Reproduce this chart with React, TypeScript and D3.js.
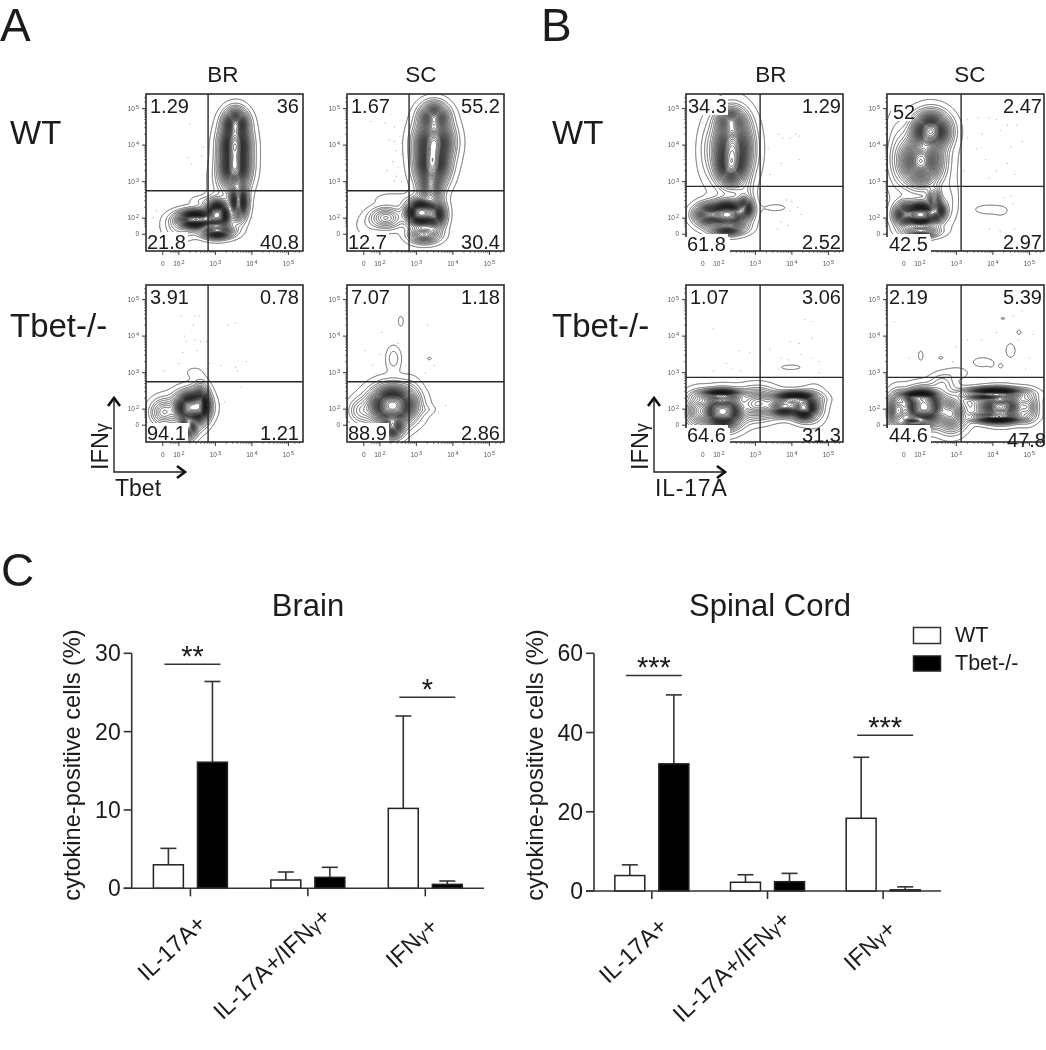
import React, { useMemo } from "react";
import * as d3 from "d3";

type Blob = [number, number, number, number, number]; // centre x, centre y, spread x, spread y (decades), peak height

// ---- Flow cytometry contour populations (decades of fluorescence)
const blobsAWtBr: Blob[] = [
  [3.54, 4.62, 0.17, 0.2, 0.55], [3.52, 4.05, 0.2, 0.28, 0.75], [3.52, 3.4, 0.2, 0.3, 0.75],
  [3.04, 2.11, 0.17, 0.18, 1.1], [2.45, 1.98, 0.26, 0.12, 0.85], [3.62, 2.45, 0.12, 0.25, 0.6],
  [3.04, 1.66, 0.22, 0.1, 0.55], [3.3, 3.0, 0.28, 0.35, 0.04], [2.0, 1.75, 0.25, 0.2, 0.06], [2.6, 2.5, 0.2, 0.08, 0.02],
];
const blobsAWtSc: Blob[] = [
  [3.47, 4.78, 0.2, 0.2, 0.6], [3.47, 4.12, 0.25, 0.3, 0.9], [3.42, 3.48, 0.22, 0.3, 0.9],
  [3.38, 2.84, 0.16, 0.25, 0.4], [3.12, 2.16, 0.2, 0.17, 1.4], [3.5, 2.1, 0.14, 0.2, 0.6],
  [2.15, 2.02, 0.24, 0.16, 0.22], [3.2, 1.56, 0.22, 0.12, 0.35], [1.65, 1.8, 0.22, 0.2, 0.02], [2.3, 2.55, 0.3, 0.1, 0.02],
];
const blobsATbetBr: Blob[] = [
  [2.31, 2.06, 0.22, 0.2, 1], [2.58, 2.15, 0.12, 0.25, 0.5], [2.25, 1.52, 0.12, 0.16, 0.4],
  [1.57, 1.93, 0.2, 0.2, 0.16], [2.4, 3.02, 0.16, 0.1, 0.012],
];
const blobsATbetSc: Blob[] = [
  [2.33, 2.11, 0.3, 0.25, 1], [2.33, 1.52, 0.15, 0.15, 0.4], [1.47, 1.97, 0.2, 0.2, 0.08],
  [2.36, 3.4, 0.12, 0.2, 0.035], [2.56, 4.42, 0.06, 0.12, 0.012], [3.34, 3.4, 0.05, 0.03, 0.012],
  [3.2, 2.0, 0.18, 0.08, 0.016], [2.85, 2.3, 0.16, 0.3, 0.03],
];
const blobsBWtBr: Blob[] = [
  [2.36, 3.94, 0.26, 0.45, 0.9], [2.31, 4.7, 0.2, 0.17, 0.35], [2.31, 3.39, 0.2, 0.25, 0.5],
  [2.22, 2.11, 0.24, 0.17, 1.3], [1.68, 2.11, 0.2, 0.15, 0.5], [2.68, 2.29, 0.12, 0.15, 0.5],
  [2.22, 1.75, 0.25, 0.1, 0.4], [1.68, 3.85, 0.18, 0.5, 0.03], [3.55, 2.3, 0.3, 0.1, 0.012], [2.7, 2.7, 0.15, 0.3, 0.05],
];
const blobsBWtSc: Blob[] = [
  [2.29, 4.4, 0.25, 0.25, 1], [2.01, 3.57, 0.3, 0.35, 0.8], [2.38, 2.48, 0.1, 0.2, 0.3],
  [2.01, 2.11, 0.2, 0.15, 1.3], [1.56, 2.11, 0.15, 0.17, 0.5], [2.47, 2.2, 0.12, 0.15, 0.5],
  [2.01, 1.66, 0.25, 0.09, 0.4], [1.37, 3.85, 0.2, 0.7, 0.04], [3.9, 2.25, 0.32, 0.1, 0.018],
  [4.2, 2.2, 0.1, 0.07, 0.014], [2.8, 2.5, 0.15, 0.4, 0.03],
];
const blobsBTbetBr: Blob[] = [
  [2.09, 1.95, 0.26, 0.22, 1.1], [2.04, 2.39, 0.3, 0.08, 0.5], [1.4, 1.97, 0.2, 0.25, 0.2],
  [4.05, 2.3, 0.3, 0.09, 0.55], [4.32, 2.05, 0.17, 0.15, 0.9], [3.78, 2.07, 0.22, 0.12, 0.55],
  [3.05, 2.16, 0.3, 0.22, 0.25], [3.96, 3.16, 0.25, 0.06, 0.012], [4.6, 2.1, 0.2, 0.3, 0.05],
];
const blobsBTbetSc: Blob[] = [
  [2.1, 2.07, 0.26, 0.22, 1], [1.92, 2.34, 0.25, 0.08, 0.45], [1.83, 1.61, 0.2, 0.08, 0.45],
  [1.37, 1.97, 0.15, 0.25, 0.3], [2.84, 1.88, 0.22, 0.25, 0.28], [4.02, 2.43, 0.4, 0.08, 0.6],
  [4.2, 2.08, 0.28, 0.18, 0.8], [4.11, 1.79, 0.35, 0.07, 0.45], [4.94, 2.07, 0.15, 0.2, 0.15],
  [2.01, 3.48, 0.05, 0.1, 0.014], [3.93, 3.25, 0.05, 0.05, 0.012], [4.2, 3.2, 0.05, 0.05, 0.012],
  [4.47, 3.62, 0.1, 0.15, 0.014], [4.7, 4.12, 0.05, 0.05, 0.012], [4.26, 4.5, 0.05, 0.02, 0.012],
  [2.56, 3.42, 0.05, 0.03, 0.012], [3.0, 3.0, 0.2, 0.1, 0.018], [3.7, 3.3, 0.2, 0.1, 0.014], [2.6, 2.7, 0.2, 0.18, 0.05],
];

// ---- Isolated events outside the contours
const dotsAWtBr = [[2.3, 4.58], [2.67, 3.94], [2.35, 3.48], [2.25, 3.66], [3.77, 5.03], [1.39, 2.2], [1.3, 2.02], [1.46, 1.75], [3.98, 2.5], [3.55, 1.4], [2.62, 3.7], [4.0, 2.0]];
const dotsAWtSc = [[1.75, 4.65], [2.15, 4.6], [2.4, 4.5], [2.55, 4.25], [2.4, 4.1], [2.6, 4.05], [2.25, 4.15], [2.45, 3.85], [2.6, 3.75], [2.35, 3.55], [2.5, 3.4], [2.2, 3.3], [2.45, 3.15], [2.6, 3.0], [2.4, 3.02], [1.5, 2.2], [1.4, 1.9], [1.6, 1.6], [4.1, 3.9], [2.3, 4.85]];
const dotsATbetBr = [[2.05, 4.55], [2.45, 4.55], [2.55, 4.55], [2.4, 4.3], [2.15, 4.0], [2.2, 3.85], [2.45, 3.9], [2.6, 3.85], [2.75, 3.85], [3.55, 4.35], [3.35, 4.3], [2.1, 3.55], [2.5, 3.6], [1.6, 3.05], [2.0, 3.25], [2.85, 3.25], [3.15, 3.2], [3.55, 3.15], [3.85, 3.3], [3.7, 2.6], [3.25, 2.2], [3.1, 1.9], [3.6, 3.05]];
const dotsATbetSc = [[2.05, 4.1], [1.6, 3.6], [2.0, 3.5], [2.5, 3.8], [2.7, 3.2], [1.8, 3.2], [3.3, 4.3], [3.5, 3.2], [3.25, 3.0], [3.8, 2.1], [3.6, 1.9]];
const dotsBWtBr = [[3.35, 3.9], [3.65, 4.3], [3.75, 4.2], [3.95, 4.2], [4.1, 4.3], [4.2, 4.25], [4.2, 3.6], [3.15, 3.7], [3.4, 3.2], [3.7, 3.5], [3.85, 2.5], [4.0, 2.45], [4.15, 2.3], [4.25, 2.1], [3.95, 2.2], [3.7, 1.9], [3.6, 1.7], [3.9, 1.8], [1.55, 4.6], [1.7, 3.1]];
const dotsBWtSc = [[3.3, 4.7], [3.6, 4.75], [3.9, 4.75], [4.1, 4.7], [3.3, 4.2], [3.7, 4.3], [4.2, 4.4], [4.4, 4.55], [4.65, 4.55], [4.8, 4.1], [4.5, 3.95], [3.55, 3.9], [3.8, 3.6], [4.1, 3.3], [4.4, 3.5], [4.6, 3.2], [3.2, 3.3], [3.9, 3.1], [4.3, 2.55], [4.5, 2.6], [4.55, 2.4], [3.9, 1.7], [4.2, 1.65], [4.6, 1.7]];
const dotsBTbetBr = [[1.85, 4.2], [2.55, 3.6], [2.85, 3.55], [2.2, 3.25], [1.85, 3.05], [2.6, 3.05], [2.35, 3.1], [3.4, 3.65], [3.7, 3.4], [3.9, 3.35], [4.25, 3.5], [4.55, 3.4], [4.75, 3.3], [4.35, 4.45], [4.55, 4.4], [4.55, 3.95], [3.95, 3.85], [4.2, 3.8], [3.65, 3.1], [4.75, 3.0], [3.15, 3.3]];
const dotsBTbetSc = [[1.3, 4.4], [4.8, 4.7], [4.55, 4.55], [4.1, 4.1], [3.3, 3.9], [3.7, 3.9], [4.7, 3.9], [5.1, 4.05], [1.7, 3.4], [3.0, 3.7], [2.9, 3.3], [4.9, 3.1], [5.0, 3.4]];

// ---- Quadrant percentages: upper left, upper right, lower left, lower right
const quadAWtBr = ["1.29", "36", "21.8", "40.8"];
const quadAWtSc = ["1.67", "55.2", "12.7", "30.4"];
const quadATbetBr = ["3.91", "0.78", "94.1", "1.21"];
const quadATbetSc = ["7.07", "1.18", "88.9", "2.86"];
const quadBWtBr = ["34.3", "1.29", "61.8", "2.52"];
const quadBWtSc = ["52", "2.47", "42.5", "2.97"];
const quadBTbetBr = ["1.07", "3.06", "64.6", "31.3"];
const quadBTbetSc = ["2.19", "5.39", "44.6", "47.8"];

// Quadrant gates, decades
const gatesA = { x: 2.8, y: 2.75 };
const gatesB = { x: 3.13, y: 2.87 };

const decades = [2, 3, 4, 5];
const zeroDecade = 1.56;
const scaleDomain = [1.1, 5.4];

// ---- Bar charts
const categories = ["IL-17A+", "IL-17A+/IFNγ+", "IFNγ+"];
const groups = ["WT", "Tbet-/-"];
const brainWtMean = [3.0, 1.06, 10.2];
const brainWtTop = [5.1, 2.08, 22.0];
const brainKoMean = [16.1, 1.4, 0.5];
const brainKoTop = [26.4, 2.68, 0.93];
const cordWtMean = [3.9, 2.2, 18.35];
const cordWtTop = [6.6, 4.1, 33.75];
const cordKoMean = [32.1, 2.35, 0.3];
const cordKoTop = [49.5, 4.45, 1.05];
const brainTicks = [0, 10, 20, 30];
const cordTicks = [0, 20, 40, 60];
const brainSig = [{ cat: 0, stars: "**", level: 28.6 }, { cat: 2, stars: "*", level: 24.4 }];
const cordSig = [{ cat: 0, stars: "***", level: 54.4 }, { cat: 2, stars: "***", level: 39.3 }];

// ---- Layout and style
const FONT = "'Liberation Sans', Arial, sans-serif";
const INK = "#1a1a1a";
const FRAME = 157;
const LEVELS = [0.006, 0.02, 0.035, 0.05, 0.07, 0.09, 0.11, 0.13, 0.15, 0.17, 0.19, 0.21, 0.23, 0.25, 0.27, 0.29, 0.31, 0.33, 0.35, 0.37, 0.39, 0.41, 0.43, 0.45, 0.47, 0.49, 0.51, 0.53, 0.55, 0.58, 0.61, 0.64, 0.67, 0.7, 0.74, 0.78, 0.83, 0.88, 0.93];
const LABEL_SHIFT = [0, 10, -4];
const SHADOW_SPREAD = 1.45;
const SHADOW_SHARE = 0.1;

const px = d3.scaleLinear().domain(scaleDomain).range([0, FRAME]);
const py = d3.scaleLinear().domain(scaleDomain).range([FRAME, 0]);

function useContours(blobs: Blob[]) {
  return useMemo(() => {
    const n = FRAME + 1;
    const v = new Float64Array(n * n);
    let mx = 0;
    for (let j = 0; j < n; j++) {
      const y = py.invert(j);
      for (let i = 0; i < n; i++) {
        const x = px.invert(i);
        let s = 0;
        for (const [cx, cy, sx, sy, w] of blobs) {
          const a = (x - cx) / sx, b = (y - cy) / sy;
          const r2 = a * a + b * b;
          s += w * Math.exp(-0.5 * r2);
          if (w > 0.1) s += w * SHADOW_SHARE * Math.exp(-0.5 * r2 / (SHADOW_SPREAD * SHADOW_SPREAD));
        }
        v[j * n + i] = s;
        if (s > mx) mx = s;
      }
    }
    for (let k = 0; k < v.length; k++) v[k] /= mx;
    const gen = d3.contours().size([n, n]).thresholds(LEVELS);
    const path = d3.geoPath();
    return gen(Array.from(v)).map((c) => path(c) || "");
  }, [blobs]);
}

function Power({ x, y, exp, anchor }: any) {
  return (
    <text x={x} y={y} textAnchor={anchor} fontSize={6.5} fill="#555" fontFamily={FONT}>
      10<tspan dy={-2} fontSize={5.5} dx={1}>{exp}</tspan>
    </text>
  );
}

function FlowPlot({ x, y, blobs, dots, quad, gate, panelId, cutBottom, nudge }: any) {
  const paths = useContours(blobs);
  const labelH = 17;
  const tl = { x: 4 + (nudge?.tlx || 0), y: 19 + (nudge?.tly || 0) };
  const tr = { x: FRAME - 4 + (nudge?.trx || 0), y: 19 };
  const bl = { x: 1 + (nudge?.blx || 0), y: 155 + (nudge?.bly || 0) };
  const br = { x: FRAME - 4 + (nudge?.brx || 0), y: 155 + (nudge?.bry || 0) };
  const tw = (s: string) => s.length * 11 - 2;
  const ticksMinor: number[] = [];
  for (const d of [2, 3, 4]) for (let m = 2; m < 10; m++) ticksMinor.push(d + Math.log10(m));
  for (const m of [6, 7, 8, 9]) ticksMinor.push(1 + Math.log10(m));
  ticksMinor.push(5.18, 5.3);
  return (
    <g transform={`translate(${x},${y})`}>
      <clipPath id={panelId}><rect width={FRAME} height={FRAME} /></clipPath>
      <g clipPath={`url(#${panelId})`}>
        {dots.map((d: number[], i: number) => (
          <circle key={i} cx={px(d[0])} cy={py(d[1])} r={0.6} fill="#aaa" />
        ))}
        {paths.map((d: string, i: number) => (
          <path key={i} d={d} fill="none" stroke="#111" strokeWidth={0.6} />
        ))}
        <rect x={tl.x - 2} y={tl.y - labelH} width={tw(quad[0])} height={labelH + 2} fill="#fff" />
        <rect x={bl.x - 1} y={bl.y - labelH} width={tw(quad[2])} height={labelH + 4} fill="#fff" />
      </g>
      <rect width={FRAME} height={FRAME} fill="none" stroke="#2a2a2a" strokeWidth={1.6} />
      <line x1={px(gate.x)} x2={px(gate.x)} y1={0} y2={FRAME} stroke="#2a2a2a" strokeWidth={1.4} />
      <line x1={0} x2={FRAME} y1={py(gate.y)} y2={py(gate.y)} stroke="#2a2a2a" strokeWidth={1.4} />
      {ticksMinor.map((d) => (
        <g key={d}>
          <line x1={-2} x2={0} y1={py(d)} y2={py(d)} stroke="#333" strokeWidth={0.6} />
          <line x1={px(d)} x2={px(d)} y1={FRAME} y2={FRAME + 2} stroke="#333" strokeWidth={0.6} />
        </g>
      ))}
      {[zeroDecade, ...decades].map((d) => (
        <g key={d}>
          <line x1={-4} x2={0} y1={py(d)} y2={py(d)} stroke="#222" strokeWidth={0.9} />
          <line x1={px(d)} x2={px(d)} y1={FRAME} y2={FRAME + 4} stroke="#222" strokeWidth={0.9} />
        </g>
      ))}
      {decades.map((d) => (
        <React.Fragment key={d}>
          <Power x={-7} y={py(d) + 2} exp={d} anchor="end" />
          <Power x={px(d)} y={FRAME + 15} exp={d} anchor="middle" />
        </React.Fragment>
      ))}
      <text x={-7} y={py(zeroDecade) + 2} textAnchor="end" fontSize={6.5} fill="#555" fontFamily={FONT}>0</text>
      <text x={px(zeroDecade)} y={FRAME + 15} textAnchor="middle" fontSize={6.5} fill="#555" fontFamily={FONT}>0</text>
      {cutBottom && <rect x={-4} y={FRAME - 14} width={tw(quad[2]) + 6} height={20} fill="#fff" />}
      <g fontFamily={FONT} fontSize={20} fill={INK}>
        <text x={tl.x} y={tl.y}>{quad[0]}</text>
        <text x={tr.x} y={tr.y} textAnchor="end">{quad[1]}</text>
        <text x={bl.x} y={bl.y}>{quad[2]}</text>
        <text x={br.x} y={br.y} textAnchor="end">{quad[3]}</text>
      </g>
    </g>
  );
}

function AxisKey({ x, xLabel, xLabelSpacing }: any) {
  const y0 = 472, top = 398, right = x + 71;
  return (
    <g fontFamily={FONT} fill={INK}>
      <path d={`M${x},${top + 2}V${y0}H${right - 2}`} fill="none" stroke="#222" strokeWidth={1.4} />
      <path d={`M${x - 6},${top + 8}L${x},${top}L${x + 6},${top + 8}`} fill="none" stroke="#111" strokeWidth={2.6} />
      <path d={`M${right - 8},${y0 - 6}L${right},${y0}L${right - 8},${y0 + 6}`} fill="none" stroke="#111" strokeWidth={2.6} />
      <text transform={`translate(${x - 6},470) rotate(-90)`} fontSize={23.5}>
        IFN<tspan fontSize={18}>γ</tspan>
      </text>
      <text x={x + 1} y={495.5} fontSize={23} letterSpacing={xLabelSpacing}>{xLabel}</text>
    </g>
  );
}

function BarChart({ title, titleX, axisX, endX, y0, yTop, domainMax, ticks, wtMean, wtTop, koMean, koTop, sig, sigHalf }: any) {
  const y = d3.scaleLinear().domain([0, domainMax]).range([y0, yTop]);
  const x = d3.scaleBand().domain(categories).range([axisX, endX]);
  const inner = (c: string) =>
    d3.scaleBand().domain(groups).range([x(c)! + x.bandwidth() / 2 - 37, x(c)! + x.bandwidth() / 2 + 37]).paddingInner(0.32);
  const series = [
    { g: groups[0], mean: wtMean, top: wtTop, fill: "#fff" },
    { g: groups[1], mean: koMean, top: koTop, fill: "#000" },
  ];
  return (
    <g fontFamily={FONT} fill={INK}>
      <text x={titleX} y={616} textAnchor="middle" fontSize={31}>{title}</text>
      <text transform={`translate(${axisX - 51.5},765) rotate(-90)`} textAnchor="middle" fontSize={23.6}>
        cytokine-positive cells (%)
      </text>
      {series.map((s) =>
        categories.map((c, i) => {
          const b = inner(c);
          const bx = b(s.g)!;
          const cx = bx + b.bandwidth() / 2;
          return (
            <g key={s.g + c}>
              <line x1={cx} x2={cx} y1={y(s.mean[i])} y2={y(s.top[i])} stroke="#333" strokeWidth={1.6} />
              <line x1={cx - 8} x2={cx + 8} y1={y(s.top[i])} y2={y(s.top[i])} stroke="#333" strokeWidth={1.6} />
              <rect x={bx} y={y(s.mean[i])} width={b.bandwidth()} height={y0 - y(s.mean[i])} fill={s.fill} stroke="#222" strokeWidth={1.5} />
            </g>
          );
        })
      )}
      <line x1={axisX} x2={axisX} y1={yTop} y2={y0} stroke="#333" strokeWidth={1.6} />
      <line x1={axisX - 8} x2={endX} y1={y0} y2={y0} stroke="#333" strokeWidth={1.6} />
      {ticks.map((t: number) => (
        <g key={t}>
          <line x1={axisX - 8} x2={axisX} y1={y(t)} y2={y(t)} stroke="#333" strokeWidth={1.6} />
          <text x={axisX - 11} y={y(t) + 8} textAnchor="end" fontSize={23}>{t}</text>
        </g>
      ))}
      {categories.map((c, ci) => {
        const cx = x(c)! + x.bandwidth() / 2;
        const parts = c.split("γ");
        return (
          <g key={c}>
            <line x1={cx} x2={cx} y1={y0} y2={y0 + 8} stroke="#333" strokeWidth={1.6} />
            <text transform={`translate(${cx + 17},${y0 + 37}) rotate(-43) translate(${LABEL_SHIFT[ci]},0)`} textAnchor="end" fontSize={23.5}>
              {parts[0]}
              {parts.length > 1 && <tspan fontSize={18}>γ</tspan>}
              {parts[1]}
            </text>
          </g>
        );
      })}
      {sig.map((s: any) => {
        const cx = x(categories[s.cat])! + x.bandwidth() / 2 + 2;
        return (
          <g key={s.cat}>
            <line x1={cx - sigHalf} x2={cx + sigHalf} y1={y(s.level)} y2={y(s.level)} stroke="#333" strokeWidth={1.5} />
            <text x={cx} y={y(s.level) + 2} textAnchor="middle" fontSize={29}>{s.stars}</text>
          </g>
        );
      })}
    </g>
  );
}

export default function App() {
  return (
    <svg width={1046} height={1050} viewBox="0 0 1046 1050" style={{ position: "absolute", left: 0, top: 0, display: "block", background: "#fff" }}>
      <defs>
        <filter id="soft" x="0" y="0" width="100%" height="100%" filterUnits="userSpaceOnUse" primitiveUnits="userSpaceOnUse">
          <feGaussianBlur stdDeviation={0.35} />
        </filter>
      </defs>
      <rect width={1046} height={1050} fill="#fff" />
      <g filter="url(#soft)" style={{ fontFamily: FONT }}>
        <g fontFamily={FONT} fill={INK}>
          <text x={0} y={41} fontSize={46}>A</text>
          <text x={541} y={41} fontSize={46}>B</text>
          <text x={1} y={586} fontSize={46}>C</text>
          <text x={223} y={82} textAnchor="middle" fontSize={22.5}>BR</text>
          <text x={421} y={82} textAnchor="middle" fontSize={22.5}>SC</text>
          <text x={771} y={82} textAnchor="middle" fontSize={22.5}>BR</text>
          <text x={970} y={82} textAnchor="middle" fontSize={22.5}>SC</text>
          <text x={10} y={144} fontSize={33}>WT</text>
          <text x={10} y={337} fontSize={33}>Tbet-/-</text>
          <text x={552} y={144} fontSize={33}>WT</text>
          <text x={552} y={337} fontSize={33}>Tbet-/-</text>
        </g>
        <FlowPlot panelId="p1" x={146} y={94} blobs={blobsAWtBr} dots={dotsAWtBr} quad={quadAWtBr} gate={gatesA} />
        <FlowPlot panelId="p2" x={347} y={94} blobs={blobsAWtSc} dots={dotsAWtSc} quad={quadAWtSc} gate={gatesA} />
        <FlowPlot panelId="p3" x={146} y={285} blobs={blobsATbetBr} dots={dotsATbetBr} quad={quadATbetBr} gate={gatesA} />
        <FlowPlot panelId="p4" x={347} y={285} blobs={blobsATbetSc} dots={dotsATbetSc} quad={quadATbetSc} gate={gatesA} />
        <FlowPlot panelId="p5" x={686} y={94} blobs={blobsBWtBr} dots={dotsBWtBr} quad={quadBWtBr} gate={gatesB} cutBottom nudge={{ tlx: -2, trx: 2, brx: 2, bly: 2 }} />
        <FlowPlot panelId="p6" x={887} y={94} blobs={blobsBWtSc} dots={dotsBWtSc} quad={quadBWtSc} gate={gatesB} cutBottom nudge={{ tlx: 2, tly: 6, trx: 2, brx: 2, blx: 1, bly: 2 }} />
        <FlowPlot panelId="p7" x={686} y={285} blobs={blobsBTbetBr} dots={dotsBTbetBr} quad={quadBTbetBr} gate={gatesB} cutBottom nudge={{ tlx: 0, trx: 2, brx: 2, bly: 2, bry: 2 }} />
        <FlowPlot panelId="p8" x={887} y={285} blobs={blobsBTbetSc} dots={dotsBTbetSc} quad={quadBTbetSc} gate={gatesB} cutBottom nudge={{ tlx: -2, trx: 2, brx: 6, blx: 1, bly: 2, bry: 7 }} />
        <AxisKey x={114} xLabel="Tbet" xLabelSpacing={0} />
        <AxisKey x={654} xLabel="IL-17A" xLabelSpacing={0.8} />
        <BarChart title="Brain" titleX={308} axisX={131.7} endX={484} y0={888.3} yTop={653.3} domainMax={30} ticks={brainTicks}
          wtMean={brainWtMean} wtTop={brainWtTop} koMean={brainKoMean} koTop={brainKoTop} sig={brainSig} sigHalf={28} />
        <BarChart title="Spinal Cord" titleX={770} axisX={594} endX={941} y0={891} yTop={653.3} domainMax={60} ticks={cordTicks}
          wtMean={cordWtMean} wtTop={cordWtTop} koMean={cordKoMean} koTop={cordKoTop} sig={cordSig} sigHalf={28} />
        <g fontFamily={FONT} fill={INK}>
          <rect x={913.5} y={627.5} width={27} height={16} fill="#fff" stroke="#333" strokeWidth={1.5} />
          <rect x={913.5} y={656} width={27} height={15} fill="#000" stroke="#222" strokeWidth={1.5} />
          <text x={955} y={642} fontSize={21.5}>WT</text>
          <text x={955} y={670} fontSize={21.5}>Tbet-/-</text>
        </g>
      </g>
    </svg>
  );
}
